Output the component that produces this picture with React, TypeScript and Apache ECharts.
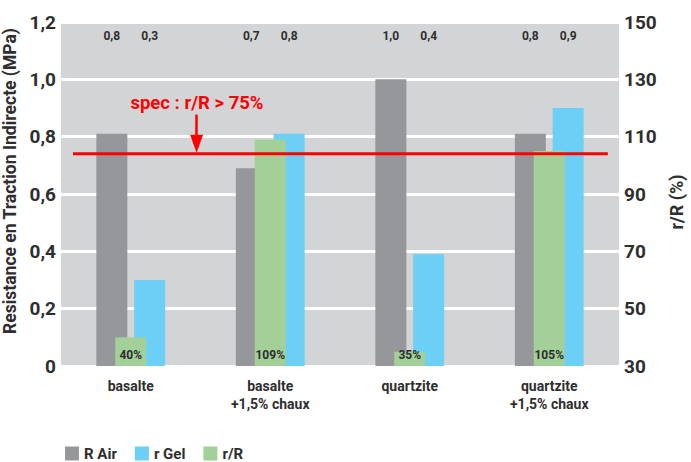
import React, { useEffect, useRef } from "react";
import * as echarts from "echarts";

const categories = ["basalte", "basalte\n+1,5% chaux", "quartzite", "quartzite\n+1,5% chaux"];
const rAir = [0.81, 0.69, 1.0, 0.81];
const rGel = [0.3, 0.81, 0.39, 0.9];
const ratio = [40, 109, 35, 105];
const specValue = 0.74;
const specText = "spec : r/R > 75%";
const topLabelValue = 1.152;

const FONT = "Roboto";
const DARK = "#2e2e2e";
const GRAY = "#96979b";
const BLUE = "#6bcff6";
const GREEN = "#a3cf98";
const RED = "#ff0000";

const fmt = (v: number) => (v === 0 ? "0" : v.toFixed(1).replace(".", ","));

export default function App() {
  const ref = useRef<HTMLDivElement>(null);
  useEffect(() => {
    if (!ref.current) return;
    const chart = echarts.init(ref.current, undefined, { renderer: "svg" });
    const topMark = (vals: number[]) => ({
      symbol: "circle",
      symbolSize: 1,
      itemStyle: { color: "rgba(0,0,0,0)" },
      label: {
        show: true,
        position: "inside",
        color: DARK,
        fontFamily: FONT,
        fontWeight: "bold",
        fontSize: 12,
        formatter: (p: any) => p.value,
      },
      data: categories.map((c, i) => ({ coord: [c, topLabelValue], value: fmt(vals[i]) })),
    });
    chart.setOption({
      animation: false,
      textStyle: { fontFamily: FONT },
      grid: {
        left: 61,
        right: 72,
        top: 22,
        bottom: 96,
        containLabel: false,
        outerBoundsMode: "none",
        show: true,
        backgroundColor: "#d3d4d6",
        borderWidth: 0,
      },
      legend: {
        left: 60,
        top: 441,
        icon: "rect",
        itemWidth: 14,
        itemHeight: 14,
        itemGap: 18,
        data: ["R Air", "r Gel", "r/R"],
        textStyle: { color: DARK, fontFamily: FONT, fontWeight: "bold", fontSize: 15 },
      },
      xAxis: [
        {
          type: "category",
          data: categories,
          axisLine: { show: false },
          axisTick: { show: false },
          axisLabel: {
            interval: 0,
            margin: 11,
            color: DARK,
            fontFamily: FONT,
            fontWeight: "bold",
            fontSize: 14,
            lineHeight: 18,
          },
        },
        { type: "value", min: 0, max: 1, show: false },
      ],
      yAxis: [
        {
          type: "value",
          min: 0,
          max: 1.2,
          interval: 0.2,
          name: "Resistance en Traction Indirecte (MPa)",
          nameLocation: "middle",
          nameGap: 39,
          nameTextStyle: {
            color: DARK,
            fontFamily: FONT,
            fontWeight: "bold",
            fontSize: 17.5,
            padding: [0, 0, 0, 26],
          },
          axisLine: { show: false },
          axisTick: { show: false },
          axisLabel: {
            margin: 5,
            color: DARK,
            fontFamily: FONT,
            fontWeight: "bold",
            fontSize: 19,
            formatter: (v: number) => fmt(v),
          },
          splitLine: { show: true, lineStyle: { color: "#ffffff", width: 3 } },
        },
        {
          type: "value",
          min: 30,
          max: 150,
          interval: 20,
          startValue: 30,
          position: "right",
          name: "r/R (%)",
          nameLocation: "middle",
          nameRotate: 90,
          nameGap: 42,
          nameTextStyle: {
            color: DARK,
            fontFamily: FONT,
            fontWeight: "bold",
            fontSize: 18,
            padding: [0, 16, 0, 0],
          },
          axisLine: { show: false },
          axisTick: { show: false },
          axisLabel: { margin: 5, color: DARK, fontFamily: FONT, fontWeight: "bold", fontSize: 19 },
          splitLine: { show: false },
        },
      ],
      series: [
        {
          name: "R Air",
          type: "bar",
          data: rAir,
          barWidth: 31,
          barGap: "-39%",
          itemStyle: { color: GRAY },
          z: 2,
          markPoint: topMark(rAir),
        },
        {
          name: "r/R",
          type: "bar",
          yAxisIndex: 1,
          data: ratio,
          barWidth: 31,
          barGap: "-39%",
          itemStyle: { color: GREEN },
          z: 4,
          label: {
            show: true,
            position: "insideBottom",
            distance: 5,
            color: DARK,
            fontFamily: FONT,
            fontWeight: "bold",
            fontSize: 12,
            formatter: "{c}%",
          },
        },
        {
          name: "r Gel",
          type: "bar",
          data: rGel,
          barWidth: 31,
          barGap: "-39%",
          itemStyle: { color: BLUE },
          z: 2,
          markPoint: topMark(rGel),
        },
        {
          name: "spec",
          type: "line",
          xAxisIndex: 1,
          yAxisIndex: 0,
          data: [
            [0.0215, specValue],
            [0.98, specValue],
          ],
          symbol: "none",
          lineStyle: { color: RED, width: 3 },
          z: 6,
          silent: true,
          markLine: {
            silent: true,
            symbol: ["none", "triangle"],
            symbolSize: [13, 18],
            lineStyle: { color: RED, width: 2.5, type: "solid" },
            label: { show: false },
            data: [
              [
                { coord: [0.243, 0.877] },
                { coord: [0.243, 0.775] },
              ],
            ],
          },
        },
      ],
      graphic: [
        {
          type: "text",
          x: 197,
          y: 103,
          z: 10,
          style: {
            text: specText,
            fill: RED,
            font: `bold 18.5px ${FONT}`,
            textAlign: "center",
            textVerticalAlign: "middle",
          },
        },
      ],
    });
    return () => chart.dispose();
  }, []);
  return (
    <div
      ref={ref}
      style={{ position: "absolute", left: 0, top: 0, width: 691, height: 462, background: "#ffffff" }}
    />
  );
}
